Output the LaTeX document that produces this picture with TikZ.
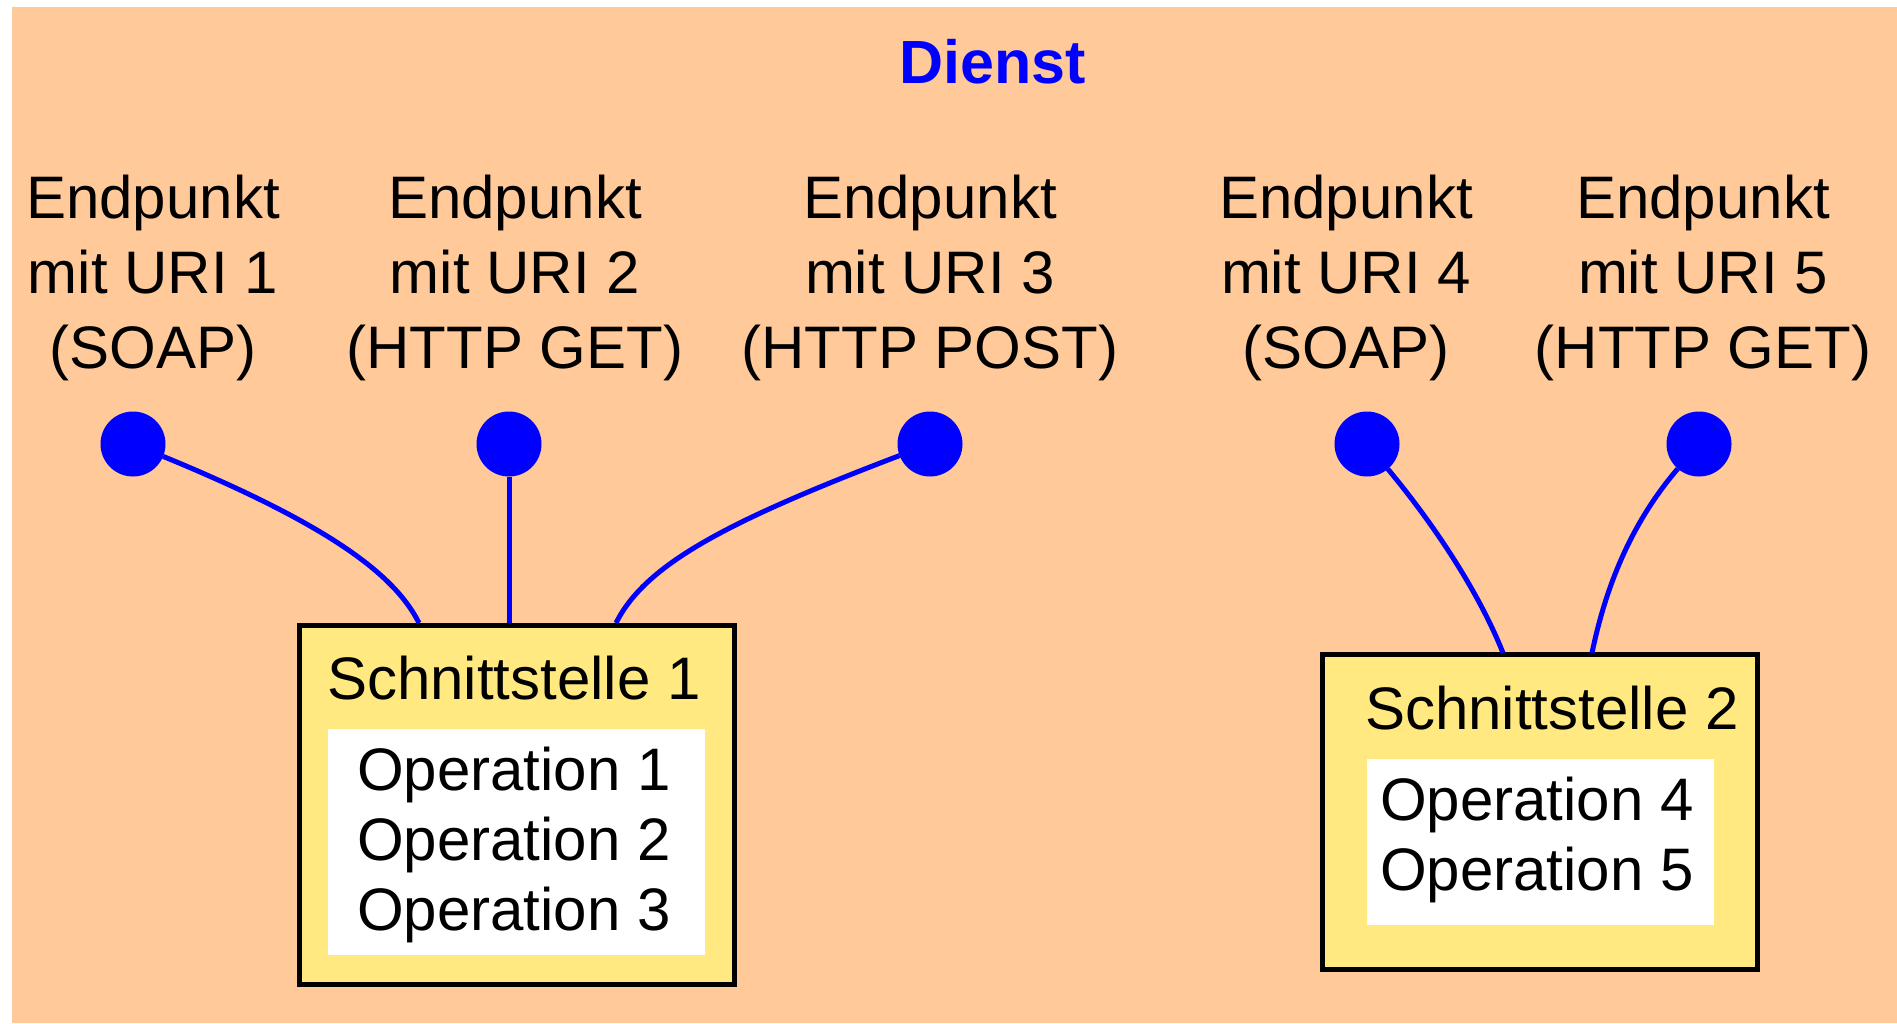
\documentclass[tikz,border=0pt]{standalone}
\usepackage{fontspec}
\setmainfont{Liberation Sans}
\definecolor{bgorange}{HTML}{FFC999}
\definecolor{ifyellow}{HTML}{FFE980}
\begin{document}
\begin{tikzpicture}[x=1pt,y=-1pt,
  endpt/.style={circle, fill=blue, minimum size=65pt, inner sep=0pt, outer sep=0pt},
  eplabel/.style={font=\fontsize{60}{75}\selectfont, align=center, anchor=base, inner sep=0pt},
  conn/.style={blue, line width=5pt},
  ifbox/.style={draw=black, line width=5pt, fill=ifyellow, inner sep=0pt, outer sep=0pt},
  opbox/.style={fill=white, inner sep=0pt},
  iftitle/.style={font=\fontsize{60}{70}\selectfont, anchor=base west, inner sep=0pt},
  optext/.style={font=\fontsize{60}{70}\selectfont, align=left, anchor=base west, inner sep=0pt},
  title/.style={font=\fontsize{61}{70}\selectfont\bfseries, text=blue, anchor=base, inner sep=0pt}]
\useasboundingbox (0,0) rectangle (1897,1023);
\fill[bgorange] (12,7) rectangle (1897,1023);

\node[title] (dienst) at (993,83) {Dienst};

% endpoint labels (base anchor = baseline of the last line)
\node[eplabel] (l1) at (153,368) {Endpunkt\\mit URI 1\\(SOAP)};
\node[eplabel] (l2) at (515,368) {Endpunkt\\mit URI 2\\(HTTP GET)};
\node[eplabel] (l3) at (930,368) {Endpunkt\\mit URI 3\\(HTTP POST)};
\node[eplabel] (l4) at (1346,368) {Endpunkt\\mit URI 4\\(SOAP)};
\node[eplabel] (l5) at (1703,368) {Endpunkt\\mit URI 5\\(HTTP GET)};

% endpoints
\node[endpt] (d1) at (133,444) {};
\node[endpt] (d2) at (509,444) {};
\node[endpt] (d3) at (930,444) {};
\node[endpt] (d4) at (1367,444) {};
\node[endpt] (d5) at (1699,444) {};

% interface 1
\node[ifbox, minimum width=435pt, minimum height=359pt] (s1) at (517,805) {};
\node[opbox, minimum width=377pt, minimum height=226pt] (o1) at (516.5,842) {};
\node[iftitle] (t1) at (327,699) {Schnittstelle 1};
\node[optext] (ops1) at (357,930) {Operation 1\\Operation 2\\Operation 3};

% interface 2
\node[ifbox, minimum width=435.5pt, minimum height=315pt] (s2) at (1540,812) {};
\node[opbox, minimum width=347pt, minimum height=166pt] (o2) at (1540.5,842) {};
\node[iftitle] (t2) at (1365,729) {Schnittstelle 2};
\node[optext] (ops2) at (1380,890) {Operation 4\\Operation 5};

% connection points
\coordinate (c1) at (419,623);
\coordinate (c2) at (509,623);
\coordinate (c3) at (616,623);
\coordinate (c4) at (1503,653);
\coordinate (c5) at (1592,653);

\draw[conn] (d1) .. controls (330,525) and (395,575) .. (c1);
\draw[conn] (d2) -- (c2);
\draw[conn] (d3) .. controls (725,522) and (645,565) .. (c3);
\draw[conn] (d4) .. controls (1432,522) and (1478,590) .. (c4);
\draw[conn] (d5) .. controls (1632,522) and (1606,585) .. (c5);
\end{tikzpicture}
\end{document}
